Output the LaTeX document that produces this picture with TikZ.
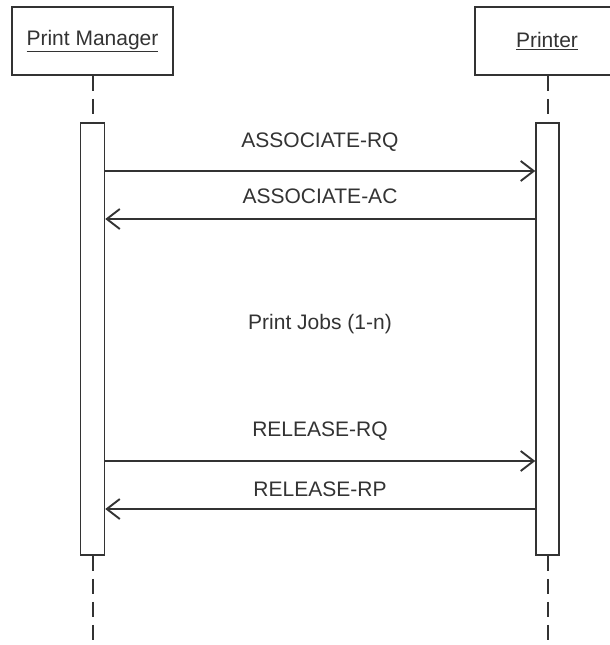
\documentclass[tikz,border=0pt]{standalone}
\usepackage{fontspec}
\setmainfont{Liberation Sans}
\usetikzlibrary{arrows.meta}
\definecolor{ink}{HTML}{333333}
\begin{document}
\begin{tikzpicture}[x=1pt,y=-1pt,
  every node/.style={font=\fontsize{21}{25}\selectfont, text=ink},
  actor/.style={draw=ink, line width=1.8pt, fill=white, minimum height=68pt, inner sep=0pt},
  actbar/.style={draw=ink, line width=1.5pt, fill=white, minimum width=24pt, minimum height=432pt, inner sep=0pt},
  lifeline/.style={draw=ink, line width=2pt, dash pattern=on 15pt off 8pt},
  msg/.style={draw=ink, line width=1.9pt, -{Straight Barb[length=13pt,width=20pt]}},
  lbl/.style={inner sep=0pt}]
\useasboundingbox (0,0) rectangle (610,645);
\fill[white] (0,0) rectangle (610,645);
\begin{scope}
\clip (0,0) rectangle (610,645);
\node[actor, minimum width=161pt] (pm) at (92.5,41) {\underline{Print Manager}};
\node[actor, minimum width=144pt] (pr) at (547,41) {\underline{Printer}};
\end{scope}
\node[actbar] (lbar) at (92.5,339) {};
\node[actbar, minimum width=23pt] (rbar) at (547.5,339) {};
\coordinate (lend) at (92.5,645);
\coordinate (rend) at (547.5,645);
\draw[lifeline] (pm.south) -- (lbar.north);
\draw[lifeline] (pr.south -| rbar.north) -- (rbar.north);
\draw[lifeline] (lbar.south) -- (lend);
\draw[lifeline] (rbar.south) -- (rend);
% messages
\coordinate (m1l) at (lbar.east |- 0,171);
\coordinate (m1r) at (rbar.west |- 0,171);
\coordinate (m2l) at (lbar.east |- 0,219);
\coordinate (m2r) at (rbar.west |- 0,219);
\coordinate (m3l) at (lbar.east |- 0,461);
\coordinate (m3r) at (rbar.west |- 0,461);
\coordinate (m4l) at (lbar.east |- 0,509);
\coordinate (m4r) at (rbar.west |- 0,509);
\draw[msg] (m1l) -- (m1r);
\draw[msg] (m2r) -- (m2l);
\draw[msg] (m3l) -- (m3r);
\draw[msg] (m4r) -- (m4l);
\node[lbl] (t1) at (320,142) {ASSOCIATE-RQ};
\node[lbl] (t2) at (320,196) {ASSOCIATE-AC};
\node[lbl] (t3) at (320,324) {Print Jobs (1-n)};
\node[lbl] (t4) at (320,431) {RELEASE-RQ};
\node[lbl] (t5) at (320,489) {RELEASE-RP};
\end{tikzpicture}
\end{document}
